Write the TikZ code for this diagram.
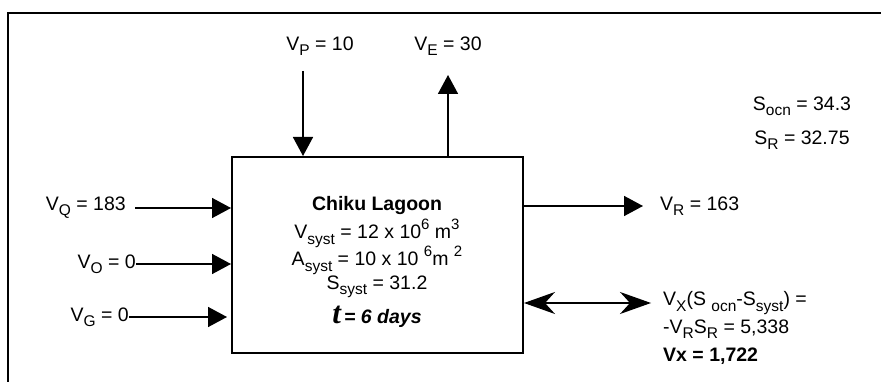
\documentclass[tikz,border=0pt]{standalone}
\usepackage{fontspec}
\setmainfont{Liberation Sans}
\newfontfamily\tserif{Liberation Serif}
\usetikzlibrary{arrows.meta}
\newcommand\lsb[1]{\raisebox{-0.5ex}{\fontsize{15.5}{16}\selectfont #1}}
\newcommand\lsp[1]{\raisebox{0.95ex}{\fontsize{15}{16}\selectfont #1}}
\begin{document}
\begin{tikzpicture}[x=1pt,y=-1pt,
  every node/.style={inner sep=0pt,font=\fontsize{19.5}{22}\selectfont},
  flow/.style={line width=1.6pt,-{Triangle[length=19pt,width=20pt]}},
  xflow/.style={line width=1.6pt,{Stealth[length=31pt,width=22pt,inset=10pt]}-{Stealth[length=31pt,width=22pt,inset=10pt]}},
  lbl/.style={anchor=center}]
\useasboundingbox[fill=white] (0,0) rectangle (881,382);
% frame
\draw[line width=2pt] (8,382) -- (8,13) -- (881,13);
% lagoon box
\node[draw,line width=2pt,minimum width=291pt,minimum height=196pt] (lagoon) at (377.5,255) {};
\node (t1) at (377,206) {\textbf{Chiku Lagoon}};
\node (t2) at (377,233) {V\lsb{syst} = 12 x 10\lsp{6} m\lsp{3}};
\node (t3) at (377,260) {A\lsb{syst} = 10 x 10 \lsp{6}m \lsp{2}};
\node (t4) at (377,287) {S\lsb{syst} = 31.2};
\node (t5) at (377,317) {{\tserif\bfseries\itshape\fontsize{31}{31}\selectfont t}\,\textbf{\textit{= 6 days}}};
% top flows
\node (vp) at (320,46) {V\lsb{P} = 10};
\node (ve) at (448,46) {V\lsb{E} = 30};
\coordinate (pstart) at (303,71);
\coordinate (etip) at (448,75);
\draw[flow] (pstart) -- (pstart |- lagoon.north);
\draw[flow] (etip |- lagoon.north) -- (etip);
% salinities
\node (socn) at (802,106) {S\lsb{ocn} = 34.3};
\node (sr) at (802,140) {S\lsb{R} = 32.75};
% left flows
\node[anchor=east] (vq) at (126,208) {V\lsb{Q} = 183};
\node[anchor=east] (vo) at (136,264) {V\lsb{O} = 0};
\node[anchor=east] (vg) at (129,317) {V\lsb{G} = 0};
\draw[flow] ([xshift=9pt]vq.east) -- (vq.east -| lagoon.west);
\draw[flow] (vo.east) -- (vo.east -| lagoon.west);
\draw[flow] (vg.east) -- ([xshift=-4pt]vg.east -| lagoon.west);
% right flows
\coordinate (rtip) at (643,206);
\draw[flow] (rtip -| lagoon.east) -- (rtip);
\node[anchor=west] (vr) at (660,206) {V\lsb{R} = 163};
\coordinate (xtip) at (651,303);
\draw[xflow] (xtip -| lagoon.east) -- (xtip);
\node[anchor=west] (vx1) at (663,303) {V\lsb{X}(S \lsb{ocn}-S\lsb{syst}) =};
\node[anchor=west] (vx2) at (663,329) {-V\lsb{R}S\lsb{R} = 5,338};
\node[anchor=west] (vx3) at (663,356) {\textbf{Vx = 1,722}};
\end{tikzpicture}
\end{document}
